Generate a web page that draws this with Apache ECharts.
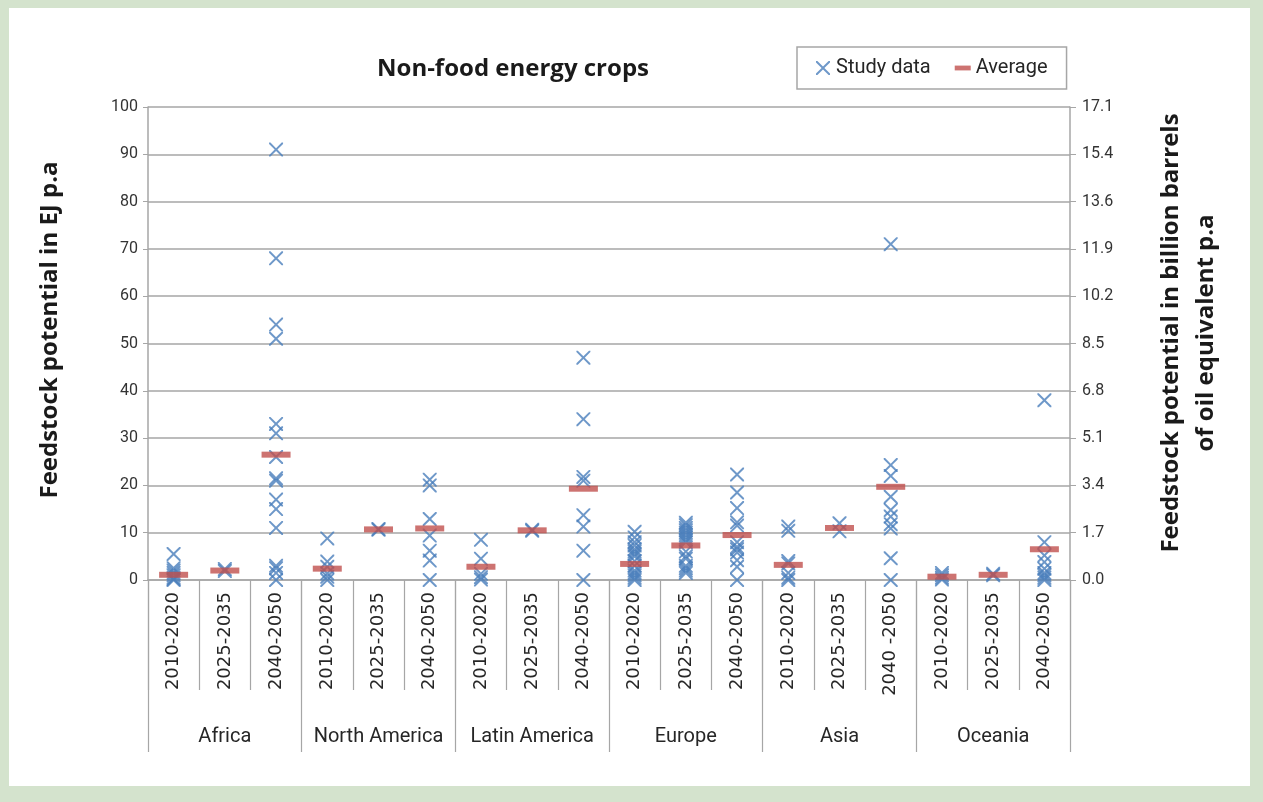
<!DOCTYPE html>
<html lang="en">
<head>
<meta charset="utf-8">
<title>Non-food energy crops</title>
<script src="https://cdn.jsdelivr.net/npm/echarts@6/dist/echarts.min.js"></script>
<style>
  html, body { margin: 0; padding: 0; background: #d4e3cd; }
  #panel { position: absolute; left: 9px; top: 8px; width: 1241px; height: 778px; background: #fff; }
  #main { position: absolute; left: 0; top: 0; width: 1263px; height: 802px; }
</style>
</head>
<body>
<div id="panel"></div>
<div id="main"></div>
<script type="text/javascript">
  // periods shown on the lower axis, grouped by region
  const periods = [
    '2010-2020', '2025-2035', '2040-2050',
    '2010-2020', '2025-2035', '2040-2050',
    '2010-2020', '2025-2035', '2040-2050',
    '2010-2020', '2025-2035', '2040-2050',
    '2010-2020', '2025-2035', '2040 -2050',
    '2010-2020', '2025-2035', '2040-2050'
  ];
  const regions = ['Africa', 'North America', 'Latin America', 'Europe', 'Asia', 'Oceania'];

  // study values (EJ p.a), one list per period column
  const studyData = [
    [5.5, 2.5, 2, 1.5, 1, 0.5, 0.2, 0],
    [2.3, 1.9],
    [91, 68, 54, 51, 33, 31, 26, 21.5, 21, 17, 15, 11, 3, 2.5, 1.5, 0],
    [8.8, 3.9, 2.8, 1.4, 0.7, 0],
    [10.8, 10.6],
    [21.2, 20, 12.9, 9.4, 6.2, 4.1, 0],
    [8.5, 4.5, 1.3, 0.6, 0.1],
    [10.6, 10.4],
    [47, 34, 21.8, 21, 13.7, 11.3, 6.2, 0],
    [10.2, 9, 8, 7.3, 6.5, 6, 5.5, 5, 4, 3, 2, 1.5, 1, 0.5, 0],
    [12.1, 11.6, 11, 10.5, 10, 9.5, 9, 8.5, 8, 6, 5, 4.5, 3, 2.5, 2, 1.5],
    [22.3, 18.5, 15.2, 12.2, 11.5, 8, 7, 6.5, 5.8, 4.2, 2.8, 0],
    [11.3, 10.4, 4, 3.5, 1.5, 0.5, 0],
    [12, 10.3],
    [71, 24.3, 22, 17.6, 14.8, 13.4, 11.8, 10.9, 4.6, 0],
    [1.5, 1, 0.5, 0.1],
    [1.3, 1.0],
    [38, 8, 5.2, 3.8, 2.4, 1.5, 1, 0.5, 0]
  ];
  const averages = [1.1, 2.0, 26.5, 2.4, 10.7, 10.9, 2.8, 10.5, 19.3, 3.4, 7.3, 9.5, 3.2, 11.0, 19.7, 0.7, 1.1, 6.5];

  // right axis labels (billion barrels oil eq.), same gridlines as the left axis
  const rightLabels = ['0.0', '1.7', '3.4', '5.1', '6.8', '8.5', '10.2', '11.9', '13.6', '15.4', '17.1'];

  const crossPath = 'path://M0,0 L2,0 L10,8 L18,0 L20,0 L20,2 L12,10 L20,18 L20,20 L18,20 L10,12 L2,20 L0,20 L0,18 L8,10 L0,2 Z';
  const dashPath = 'path://M0,0 L30,0 L30,9 L0,9 Z';
  const blue = '#4a7ebb';
  const red = '#c0504d';
  const grey = '#a6a6a6';

  let points = [];
  studyData.forEach(function (list, i) {
    list.forEach(function (v) { points.push([i, v]); });
  });
  let avgPoints = averages.map(function (v, i) { return [i, v]; });

  let myChart = echarts.init(document.getElementById('main'));
  const option = {
    backgroundColor: 'transparent',
    textStyle: { fontFamily: 'Roboto' },
    title: {
      text: 'Non-food energy crops',
      left: 508,
      top: 52,
      textAlign: 'center',
      textStyle: { fontFamily: 'Open Sans', fontSize: 24, fontWeight: 'bold', color: '#1a1a1a' }
    },
    legend: {
      left: 797,
      top: 47,
      padding: [11, 19, 11, 19],
      borderColor: grey,
      borderWidth: 1.5,
      itemGap: 24,
      itemWidth: 16,
      itemHeight: 14,
      textStyle: { fontSize: 20, color: '#262626' },
      data: [
        { name: 'Study data', icon: crossPath },
        { name: 'Average', icon: dashPath }
      ]
    },
    grid: { left: 148, right: 193, top: 107, bottom: 222 },
    xAxis: [
      {
        type: 'category',
        data: periods,
        position: 'bottom',
        axisLine: { lineStyle: { color: grey, width: 1.5 } },
        axisTick: { show: true, interval: 0, length: 110, lineStyle: { color: grey, width: 1.2 } },
        axisLabel: { interval: 0, rotate: 90, margin: 12, fontFamily: 'DejaVu Sans', fontSize: 18, color: '#262626' },
        splitLine: { show: false }
      },
      {
        type: 'category',
        data: regions,
        position: 'bottom',
        axisLine: { show: false },
        axisTick: { show: true, interval: 0, length: 172, lineStyle: { color: grey, width: 1.2 } },
        axisLabel: { interval: 0, margin: 147, fontSize: 20, color: '#262626' },
        splitLine: { show: false }
      }
    ],
    yAxis: [
      {
        type: 'value',
        min: 0,
        max: 100,
        interval: 10,
        axisLine: { show: true, lineStyle: { color: grey, width: 1.5 } },
        axisTick: { show: true, length: 5, lineStyle: { color: grey } },
        axisLabel: { fontSize: 16, color: '#333', margin: 10 },
        splitLine: { lineStyle: { color: grey, width: 1.5 } }
      },
      {
        type: 'value',
        position: 'right',
        min: 0,
        max: 100,
        interval: 10,
        axisLine: { show: true, lineStyle: { color: grey, width: 1.5 } },
        axisTick: { show: true, length: 6, lineStyle: { color: grey } },
        axisLabel: {
          fontSize: 16, color: '#333', margin: 12,
          formatter: function (v) { return rightLabels[Math.round(v / 10)]; }
        },
        splitLine: { show: false }
      }
    ],
    graphic: [
      {
        type: 'text', x: 50, y: 330, rotation: Math.PI / 2,
        style: {
          text: 'Feedstock potential in EJ p.a',
          fontFamily: 'Open Sans', fontSize: 24, fontWeight: 'bold', fill: '#1a1a1a',
          align: 'center', verticalAlign: 'middle'
        }
      },
      {
        type: 'text', x: 1189, y: 333, rotation: Math.PI / 2,
        style: {
          text: 'Feedstock potential in billion barrels\nof oil equivalent p.a',
          fontFamily: 'Open Sans', fontSize: 24, fontWeight: 'bold', fill: '#1a1a1a',
          lineHeight: 35, align: 'center', verticalAlign: 'middle'
        }
      }
    ],
    series: [
      {
        name: 'Study data',
        type: 'scatter',
        xAxisIndex: 0,
        yAxisIndex: 0,
        symbol: crossPath,
        symbolSize: 14,
        itemStyle: { color: blue },
        data: points
      },
      {
        name: 'Average',
        type: 'scatter',
        xAxisIndex: 0,
        yAxisIndex: 0,
        symbol: 'rect',
        symbolSize: [29, 6],
        itemStyle: { color: red },
        data: avgPoints
      }
    ]
  };
  myChart.setOption(option);
</script>
</body>
</html>
